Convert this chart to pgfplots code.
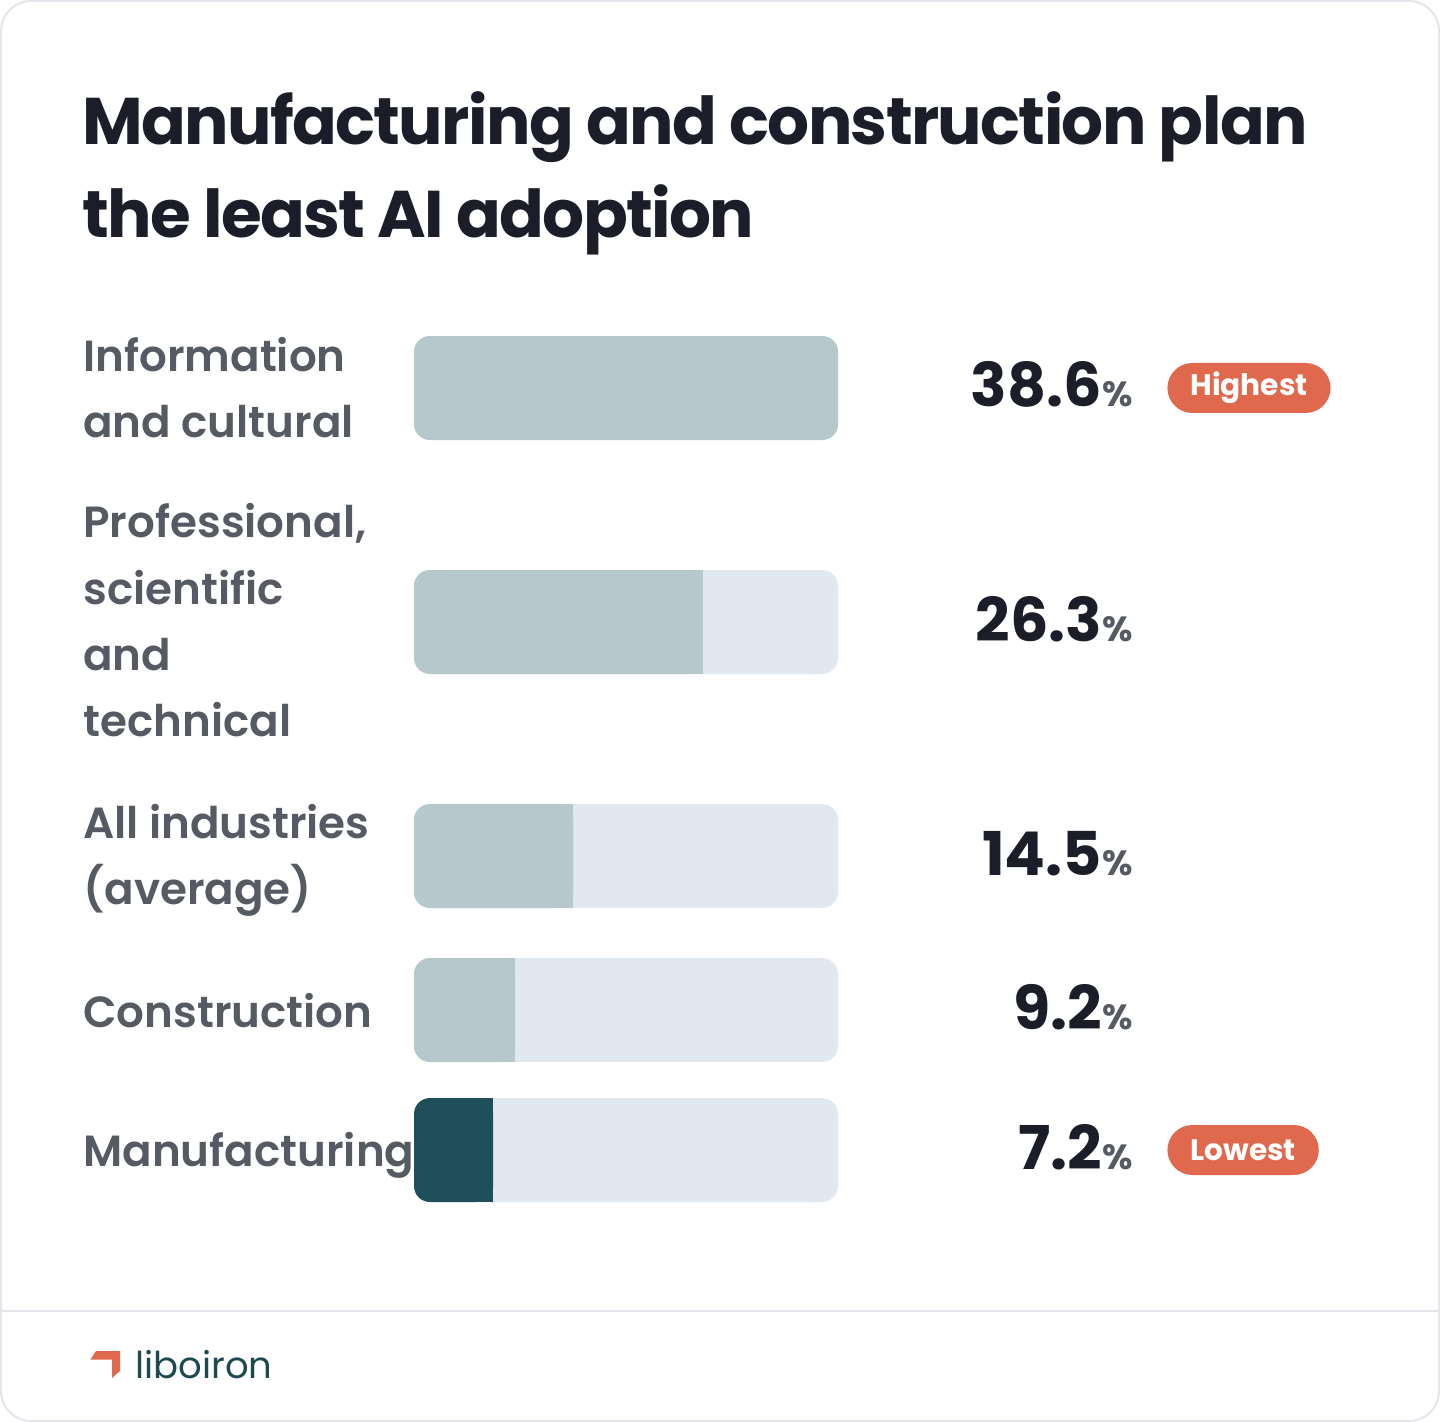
\documentclass[border=0pt]{standalone}
\usepackage{pgfplots}
\pgfplotsset{compat=1.18}
\usepackage{fontspec}
\setmainfont{Poppins}
\newfontfamily\psemi{Poppins SemiBold}
\newfontfamily\pbold{Poppins Bold}
\newfontfamily\ptitle{Poppins Bold}[LetterSpace=-2.5]
\definecolor{titlec}{HTML}{1B1E29}
\definecolor{labelc}{HTML}{565A63}
\definecolor{trackc}{HTML}{E2E8F0}
\definecolor{fillc}{HTML}{B6C8CB}
\definecolor{darkc}{HTML}{1E4F5A}
\definecolor{badgec}{HTML}{E0694D}
\definecolor{logoc}{HTML}{1D4A50}
\definecolor{borderc}{HTML}{E4E6EB}
\begin{document}
\begin{tikzpicture}
\useasboundingbox (0,0) rectangle (720pt,-711pt);
\begin{axis}[at={(0pt,0pt)}, anchor=north west, scale only axis,
  width=720pt, height=711pt, hide axis,
  xmin=-37.689, xmax=93.405, ymin=0, ymax=1422, y dir=reverse, clip=false]
% tracks (full scale = 38.6)
\addplot[xbar, bar width=104, bar shift=0pt, fill=trackc, draw=none, rounded corners=8pt]
  coordinates {(38.6,388) (38.6,622) (38.6,856) (38.6,1010) (38.6,1150)};
% values
\addplot[xbar, bar width=104, bar shift=0pt, fill=fillc, draw=none, rounded corners=8pt]
  coordinates {(38.6,388) (26.3,622) (14.5,856) (9.2,1010)};
\addplot[xbar, bar width=104, bar shift=0pt, fill=darkc, draw=none, rounded corners=8pt]
  coordinates {(7.2,1150)};
% square right ends of partial bars
\addplot[fill=fillc, draw=none] coordinates {(24.8,570) (26.3,570) (26.3,674) (24.8,674)};
\addplot[fill=fillc, draw=none] coordinates {(13.0,804) (14.5,804) (14.5,908) (13.0,908)};
\addplot[fill=fillc, draw=none] coordinates {(7.7,958) (9.2,958) (9.2,1062) (7.7,1062)};
\addplot[fill=darkc, draw=none] coordinates {(5.7,1098) (7.2,1098) (7.2,1202) (5.7,1202)};
\end{axis}
\begin{scope}[x=0.5pt, y=-0.5pt]
% card
\draw[borderc, line width=1pt, rounded corners=15pt] (1,1) rectangle (1439,1421);
\draw[borderc, line width=1pt] (1,1311) -- (1439,1311);
% title
\node[anchor=base west, inner sep=0pt, text=titlec] at (82,145) {\ptitle\fontsize{33}{40}\selectfont Manufacturing and construction plan};
\node[anchor=base west, inner sep=0pt, text=titlec] at (82,238) {\ptitle\fontsize{33}{40}\selectfont the least AI adoption};
% labels
\tikzset{lab/.style={anchor=base west, inner sep=0pt, text=labelc, font=\psemi\fontsize{21.8}{24}\selectfont}}
\node[lab] at (83,372) {Information};
\node[lab] at (83,438) {and cultural};
\node[lab] at (83,538) {Professional,};
\node[lab] at (83,604) {scientific};
\node[lab] at (83,670) {and};
\node[lab] at (83,736) {technical};
\node[lab] at (83,838) {All industries};
\node[lab] at (83,904) {(average)};
\node[lab] at (83,1027) {Construction};
\node[lab] at (83,1166) {Manufacturing};
% values
\tikzset{val/.style={anchor=base east, inner sep=0pt, text=titlec, font=\pbold\fontsize{30.2}{32}\selectfont}}
\newcommand{\pc}{{\color{labelc}\fontsize{17.5}{18}\selectfont\%}}
\node[val] at (1133,407) {38.6\pc};
\node[val] at (1133,641) {26.3\pc};
\node[val] at (1133,875) {14.5\pc};
\node[val] at (1133,1029) {9.2\pc};
\node[val] at (1133,1169) {7.2\pc};
% badges
\tikzset{badge/.style={anchor=west, fill=badgec, text=white, rounded corners=12.5pt, minimum height=25pt, inner xsep=11.5pt, inner ysep=0pt, font=\pbold\fontsize{14.8}{16}\selectfont}}
\node[badge] at (1167,388) {Highest};
\node[badge] at (1167,1150) {Lowest};
% logo
\fill[badgec] (90.5,1359.5) -- (96,1351) -- (120,1351) -- (120,1371) -- (112,1378) -- (112,1359.5) -- cycle;
\node[anchor=base west, inner sep=0pt, text=logoc, font=\fontsize{18.5}{20}\selectfont] at (135,1378) {liboiron};
\end{scope}
\end{tikzpicture}
\end{document}
